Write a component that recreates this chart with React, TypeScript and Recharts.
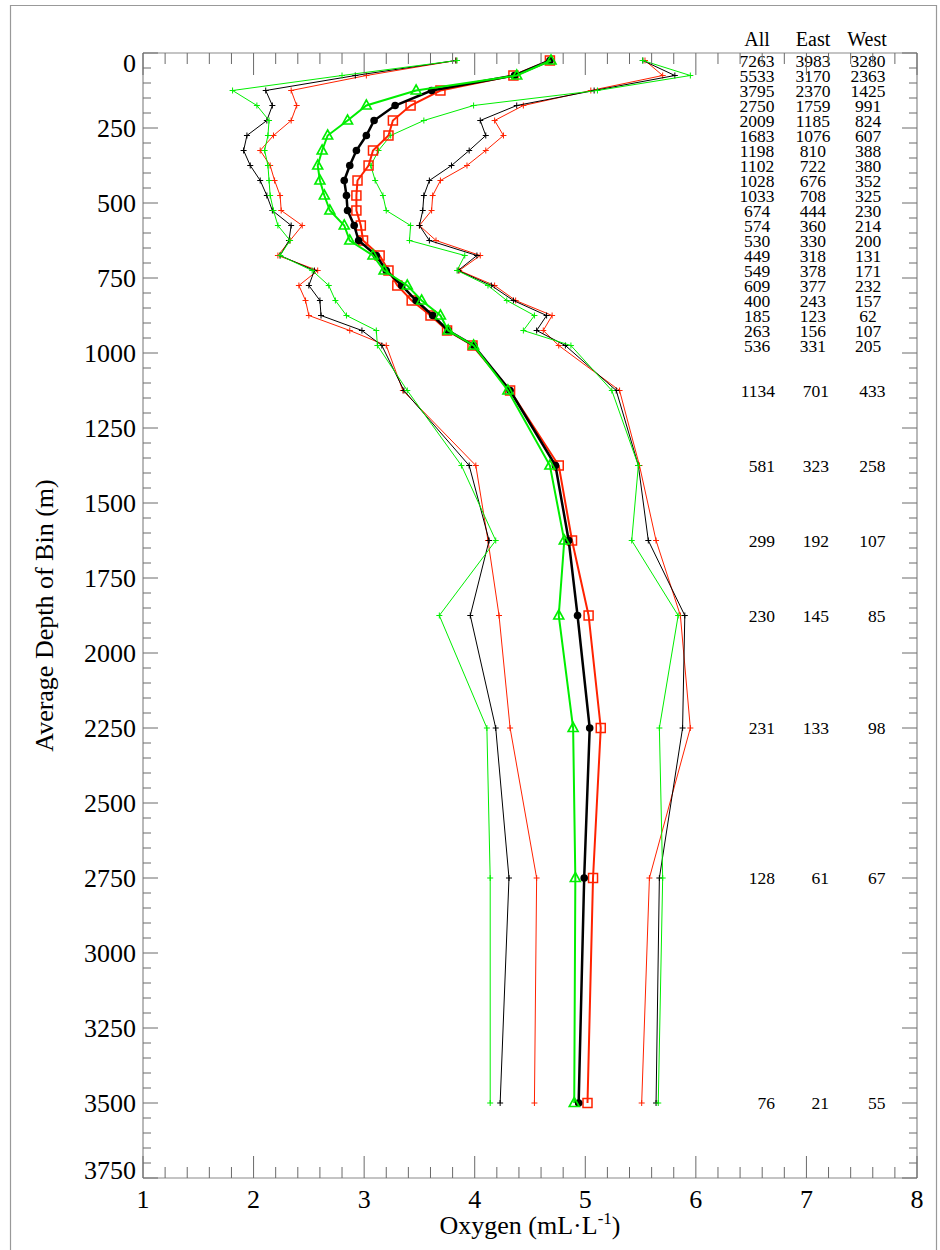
import React from "react";
import { ScatterChart, Scatter, XAxis, YAxis } from "recharts";

// Bin-average depths (m)
const depths = [
  25, 75, 125, 175, 225, 275, 325, 375, 425, 475, 525, 575, 625, 675, 725,
  775, 825, 875, 925, 975, 1125, 1375, 1625, 1875, 2250, 2750, 3500,
];

// Mean oxygen profiles (mL/L)
const allMean = [
  4.68, 4.36, 3.61, 3.28, 3.09, 3.02, 2.93, 2.87, 2.82, 2.84, 2.85, 2.91, 2.95,
  3.11, 3.2, 3.34, 3.47, 3.62, 3.76, 3.99, 4.32, 4.73, 4.85, 4.93, 5.04, 4.99, 4.94,
];
const eastMean = [
  4.68, 4.35, 3.69, 3.42, 3.26, 3.22, 3.08, 3.04, 2.94, 2.93, 2.93, 2.97, 2.99,
  3.14, 3.22, 3.3, 3.43, 3.6, 3.75, 3.98, 4.32, 4.76, 4.88, 5.03, 5.14, 5.07, 5.02,
];
const westMean = [
  4.69, 4.38, 3.47, 3.02, 2.85, 2.67, 2.62, 2.58, 2.6, 2.64, 2.69, 2.82, 2.87,
  3.08, 3.18, 3.39, 3.52, 3.69, 3.76, 3.99, 4.3, 4.68, 4.81, 4.76, 4.89, 4.91, 4.9,
];

// Mean minus one standard deviation
const allLow = [
  3.83, 2.92, 2.11, 2.17, 2.12, 1.94, 1.91, 1.97, 2.06, 2.12, 2.17, 2.34, 2.32,
  2.24, 2.55, 2.5, 2.6, 2.61, 2.98, 3.16, 3.36, 3.95, 4.13, 3.96, 4.19, 4.31, 4.23,
];
const eastLow = [
  3.83, 3.02, 2.34, 2.39, 2.34, 2.18, 2.06, 2.15, 2.19, 2.24, 2.25, 2.44, 2.33,
  2.22, 2.58, 2.41, 2.47, 2.5, 2.87, 3.2, 3.35, 4.01, 4.12, 4.22, 4.32, 4.56, 4.54,
];
const westLow = [
  3.84, 2.8, 1.81, 2.03, 2.14, 2.13, 2.1, 2.13, 2.14, 2.15, 2.18, 2.22, 2.33,
  2.24, 2.53, 2.68, 2.74, 2.84, 3.11, 3.12, 3.39, 3.88, 4.19, 3.68, 4.11, 4.14, 4.14,
];

// Mean plus one standard deviation
const allHigh = [
  5.52, 5.81, 5.08, 4.38, 4.05, 4.1, 3.95, 3.79, 3.59, 3.54, 3.53, 3.5, 3.59,
  4.02, 3.85, 4.15, 4.35, 4.65, 4.56, 4.82, 5.28, 5.48, 5.57, 5.9, 5.88, 5.67, 5.64,
];
const eastHigh = [
  5.54, 5.7, 5.05, 4.44, 4.18, 4.26, 4.1, 3.93, 3.69, 3.62, 3.61, 3.5, 3.65,
  4.05, 3.86, 4.18, 4.37, 4.7, 4.62, 4.76, 5.31, 5.49, 5.64, 5.86, 5.95, 5.58, 5.51,
];
const westHigh = [
  5.52, 5.95, 5.11, 3.99, 3.54, 3.24, 3.13, 3.06, 3.1, 3.17, 3.2, 3.42, 3.41,
  3.91, 3.84, 4.12, 4.29, 4.54, 4.44, 4.87, 5.24, 5.48, 5.42, 5.84, 5.67, 5.7, 5.66,
];

// Number of observations per bin
const allCount = [
  7263, 5533, 3795, 2750, 2009, 1683, 1198, 1102, 1028, 1033, 674, 574, 530,
  449, 549, 609, 400, 185, 263, 536, 1134, 581, 299, 230, 231, 128, 76,
];
const eastCount = [
  3983, 3170, 2370, 1759, 1185, 1076, 810, 722, 676, 708, 444, 360, 330, 318,
  378, 377, 243, 123, 156, 331, 701, 323, 192, 145, 133, 61, 21,
];
const westCount = [
  3280, 2363, 1425, 991, 824, 607, 388, 380, 352, 325, 230, 214, 200, 131, 171,
  232, 157, 62, 107, 205, 433, 258, 107, 85, 98, 67, 55,
];
const countHeaders = ["All", "East", "West"];

// Axis ticks
const xMajorTicks = [1, 2, 3, 4, 5, 6, 7, 8];
const yMajorTicks = [
  0, 250, 500, 750, 1000, 1250, 1500, 1750, 2000, 2250, 2500, 2750, 3000, 3250,
  3500, 3750,
];

const FONT = '"Liberation Serif", "Times New Roman", Times, serif';
const RED = "#ff2200";
const GREEN = "#00ee00";
const BLACK = "#000000";
const AXIS = "#8a8a8a";
const TICK = "#6a6a6a";

const W = 940;
const H = 1250;
const PLOT_TOP = 53;
const PLOT_BOTTOM = 1178;
const PLOT_LEFT = 143;
const PLOT_RIGHT = 917;
const X_DOMAIN: [number, number] = [1, 8];
const Y_DOMAIN: [number, number] = [0, 3750];

// minor ticks: 0.2 on oxygen, 50 m on depth
const xTicks: number[] = [];
for (let i = 0; i <= 35; i++) xTicks.push(Math.round((1 + i * 0.2) * 10) / 10);
const yTicks: number[] = [];
for (let d = 0; d <= 3750; d += 50) yTicks.push(d);

const isXMajor = (v: number) => xMajorTicks.includes(v);
const isYMajor = (v: number) => yMajorTicks.includes(v);

// column anchors (oxygen units) for the observation-count table
const topRows = 20;
const centerColumns = [6.553, 7.059, 7.557];
const rightColumns = [6.716, 7.204, 7.715];

const profile = (vals: number[]) => vals.map((v, i) => ({ ox: v, depth: depths[i] }));

const countRows = (counts: number[], col: number) =>
  counts.map((n, i) => ({
    ox: i < topRows ? centerColumns[col] : rightColumns[col],
    depth: depths[i],
    n,
    anchor: i < topRows ? "middle" : "end",
  }));

const BottomTick = (props: any) => {
  const { x, y, payload } = props;
  const v = payload.value;
  const major = isXMajor(v);
  return (
    <g>
      <line x1={x} x2={x} y1={y} y2={y - (major ? 22 : 11)} stroke={TICK} strokeWidth={1} />
      {major && (
        <text x={x} y={y + 30} textAnchor="middle" fontSize={26} fontFamily={FONT} fill="#000">
          {v}
        </text>
      )}
    </g>
  );
};

const TopTick = (props: any) => {
  const { x, y, payload } = props;
  const major = isXMajor(payload.value);
  return <line x1={x} x2={x} y1={y} y2={y + (major ? 22 : 11)} stroke={TICK} strokeWidth={1} />;
};

const LeftTick = (props: any) => {
  const { x, y, payload } = props;
  const v = payload.value;
  const major = isYMajor(v);
  const shift = v === 0 ? 10 : v === 3750 ? -8 : 0;
  return (
    <g>
      <line x1={x} x2={x + (major ? 15 : 8)} y1={y} y2={y} stroke={TICK} strokeWidth={1} />
      {major && (
        <text
          x={x - 7}
          y={y + shift}
          dy="0.34em"
          textAnchor="end"
          fontSize={26}
          fontFamily={FONT}
          fill="#000"
        >
          {v}
        </text>
      )}
    </g>
  );
};

const RightTick = (props: any) => {
  const { x, y, payload } = props;
  const major = isYMajor(payload.value);
  return <line x1={x} x2={x - (major ? 15 : 8)} y1={y} y2={y} stroke={TICK} strokeWidth={1} />;
};

const plus = (color: string) => (p: any) =>
  p.cx == null ? <g /> : (
    <path
      d={`M${p.cx - 3},${p.cy}h6M${p.cx},${p.cy - 3}v6`}
      stroke={color}
      strokeWidth={1}
      fill="none"
    />
  );

const dot = (p: any) => (p.cx == null ? <g /> : <circle cx={p.cx} cy={p.cy} r={3.8} fill={BLACK} />);

const square = (p: any) =>
  p.cx == null ? <g /> : (
    <rect x={p.cx - 4.5} y={p.cy - 4.5} width={9} height={9} fill="none" stroke={RED} strokeWidth={1.5} />
  );

const triangle = (p: any) =>
  p.cx == null ? <g /> : (
    <path
      d={`M${p.cx},${p.cy - 5.5}L${p.cx + 5},${p.cy + 3.5}L${p.cx - 5},${p.cy + 3.5}Z`}
      fill="none"
      stroke={GREEN}
      strokeWidth={1.6}
    />
  );

const countText = (p: any) =>
  p.cx == null ? <g /> : (
    <text
      x={p.cx}
      y={p.cy}
      dy="0.35em"
      textAnchor={p.payload.anchor}
      fontSize={17.5}
      fontFamily={FONT}
      fill="#000"
    >
      {p.payload.n}
    </text>
  );

const thinLines = [
  { data: eastLow, color: RED },
  { data: eastHigh, color: RED },
  { data: allLow, color: BLACK },
  { data: allHigh, color: BLACK },
  { data: westLow, color: GREEN },
  { data: westHigh, color: GREEN },
];

const meanLines = [
  { data: eastMean, color: RED, width: 2, shape: square },
  { data: allMean, color: BLACK, width: 2.5, shape: dot },
  { data: westMean, color: GREEN, width: 2, shape: triangle },
];

const countColumns = [allCount, eastCount, westCount];

export default function App() {
  return (
    <div style={{ position: "absolute", left: 0, top: 0, width: W, height: H, background: "#fff" }}>
      <div style={{ position: "absolute", left: 0, top: 0 }}>
        <ScatterChart
          width={W}
          height={H}
          margin={{ top: PLOT_TOP - 1, left: PLOT_LEFT - 80, right: W - PLOT_RIGHT - 1, bottom: H - PLOT_BOTTOM - 60 }}
        >
          <XAxis
            xAxisId="bottom"
            type="number"
            dataKey="ox"
            domain={X_DOMAIN}
            allowDataOverflow
            ticks={xTicks}
            interval={0}
            height={60}
            tickSize={0}
            tickMargin={0}
            tickLine={false}
            axisLine={{ stroke: AXIS, strokeWidth: 1.2 }}
            tick={<BottomTick />}
          />
          <XAxis
            xAxisId="top"
            orientation="top"
            type="number"
            dataKey="ox"
            domain={X_DOMAIN}
            allowDataOverflow
            ticks={xTicks}
            interval={0}
            height={1}
            tickSize={0}
            tickMargin={0}
            tickLine={false}
            axisLine={{ stroke: AXIS, strokeWidth: 1.2 }}
            tick={<TopTick />}
          />
          <YAxis
            yAxisId="left"
            type="number"
            dataKey="depth"
            domain={Y_DOMAIN}
            reversed
            allowDataOverflow
            ticks={yTicks}
            interval={0}
            width={80}
            tickSize={0}
            tickMargin={0}
            tickLine={false}
            axisLine={{ stroke: AXIS, strokeWidth: 1.2 }}
            tick={<LeftTick />}
          />
          <YAxis
            yAxisId="right"
            orientation="right"
            type="number"
            dataKey="depth"
            domain={Y_DOMAIN}
            reversed
            allowDataOverflow
            ticks={yTicks}
            interval={0}
            width={1}
            tickSize={0}
            tickMargin={0}
            tickLine={false}
            axisLine={{ stroke: AXIS, strokeWidth: 1.2 }}
            tick={<RightTick />}
          />

          {thinLines.map((s, i) => (
            <Scatter
              key={`thin-${i}`}
              xAxisId="bottom"
              yAxisId="left"
              data={profile(s.data)}
              line={{ stroke: s.color, strokeWidth: 1 }}
              lineJointType="linear"
              shape={plus(s.color)}
              isAnimationActive={false}
              legendType="none"
            />
          ))}

          {meanLines.map((s, i) => (
            <Scatter
              key={`mean-${i}`}
              xAxisId="bottom"
              yAxisId="left"
              data={profile(s.data)}
              line={{ stroke: s.color, strokeWidth: s.width }}
              lineJointType="linear"
              shape={s.shape}
              isAnimationActive={false}
              legendType="none"
            />
          ))}

          {countColumns.map((counts, i) => (
            <Scatter
              key={`count-${i}`}
              xAxisId="bottom"
              yAxisId="left"
              data={countRows(counts, i)}
              shape={countText}
              isAnimationActive={false}
              legendType="none"
            />
          ))}
        </ScatterChart>
      </div>

      <svg
        width={W}
        height={H}
        style={{ position: "absolute", left: 0, top: 0, pointerEvents: "none" }}
      >
        <path d={`M10.5,${H + 5}V5.5H936.5V${H + 5}`} fill="none" stroke="#999" strokeWidth={1.2} />
        {countHeaders.map((h, i) => (
          <text
            key={h}
            x={[757, 813, 867][i]}
            y={46}
            textAnchor="middle"
            fontSize={20}
            fontFamily={FONT}
            fill="#000"
          >
            {h}
          </text>
        ))}
        <text
          x={(PLOT_LEFT + PLOT_RIGHT) / 2}
          y={1234}
          textAnchor="middle"
          fontSize={26}
          fontFamily={FONT}
          fill="#000"
        >
          Oxygen (mL·L
          <tspan dy={-10} fontSize={17}>-1</tspan>
          <tspan dy={10}>)</tspan>
        </text>
        <text
          x={53}
          y={(PLOT_TOP + PLOT_BOTTOM) / 2}
          transform={`rotate(-90, 53, ${(PLOT_TOP + PLOT_BOTTOM) / 2})`}
          textAnchor="middle"
          fontSize={26}
          fontFamily={FONT}
          fill="#000"
        >
          Average Depth of Bin (m)
        </text>
      </svg>
    </div>
  );
}
